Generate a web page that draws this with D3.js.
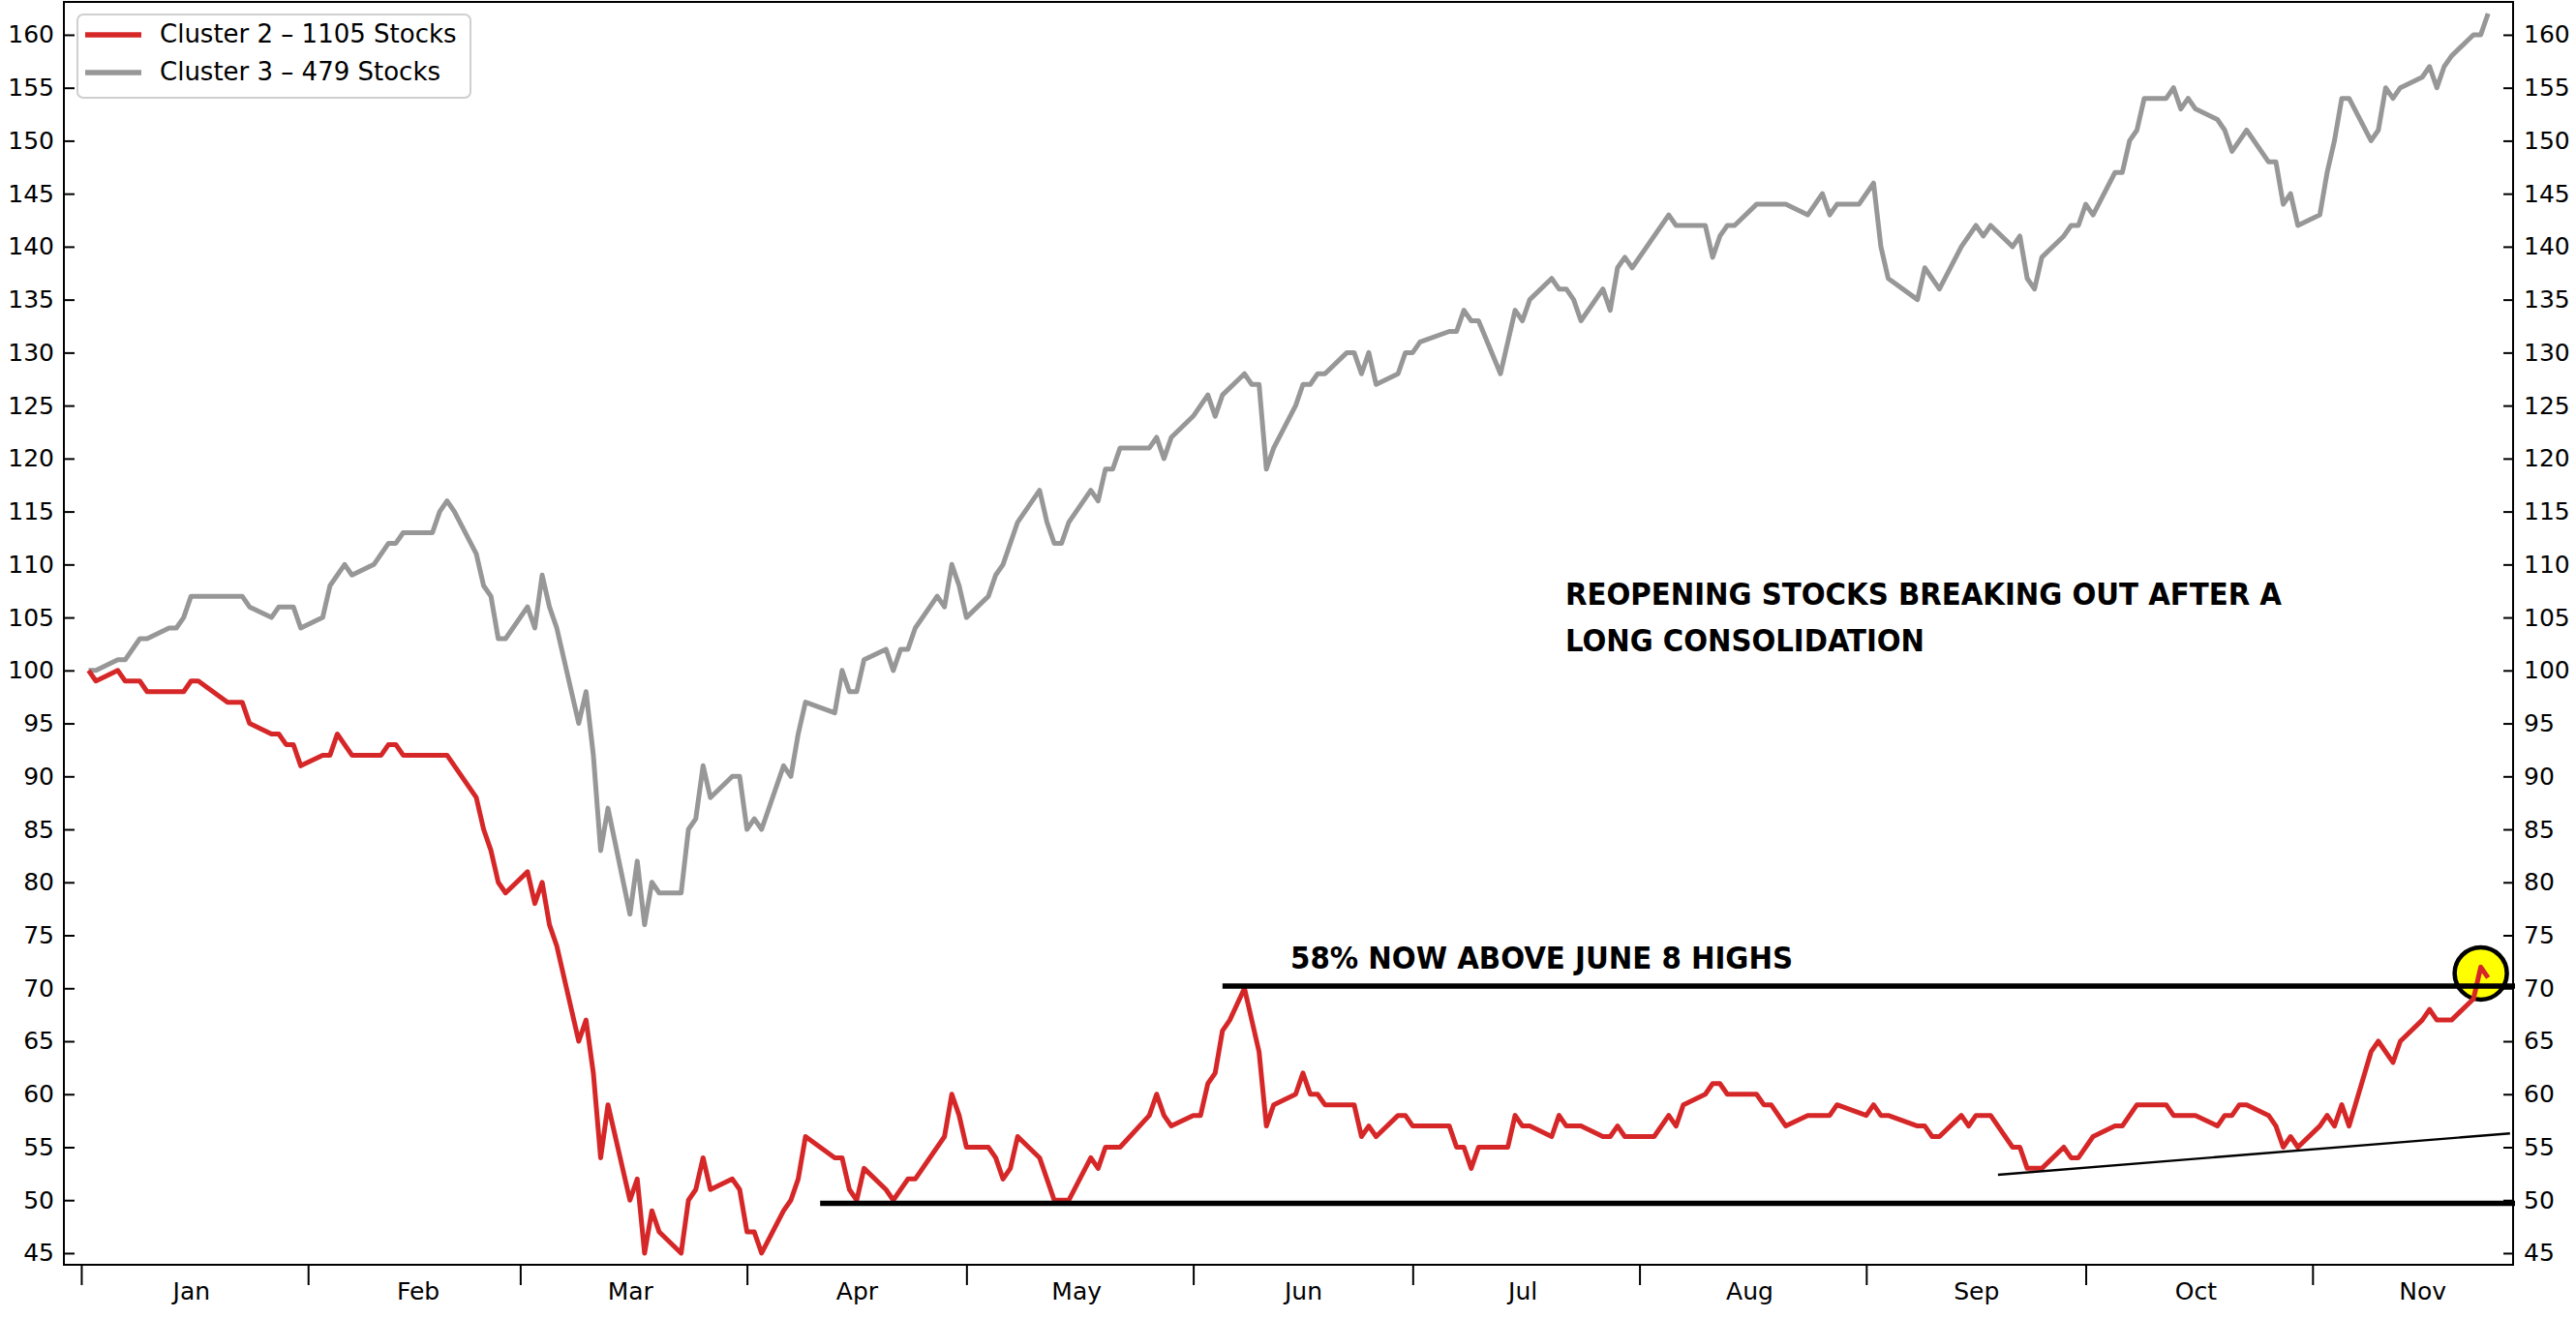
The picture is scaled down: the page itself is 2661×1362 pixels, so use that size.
<!DOCTYPE html>
<html>
<head>
<meta charset="utf-8">
<script src="https://cdn.jsdelivr.net/npm/d3@7"></script>
<style>
  body { margin: 0; background: #fff; }
</style>
</head>
<body>
<svg id="chart"></svg>
<script>
// month labels and y tick values
const months = ["Jan", "Feb", "Mar", "Apr", "May", "Jun", "Jul", "Aug", "Sep", "Oct", "Nov"];
const yTicks = [45, 50, 55, 60, 65, 70, 75, 80, 85, 90, 95, 100, 105, 110, 115, 120, 125, 130, 135, 140, 145, 150, 155, 160];
const seriesNames = ["Cluster 2 \u2013 1105 Stocks", "Cluster 3 \u2013 479 Stocks"];

// Cluster 2 (red) - [date, index]
const cluster2 = [
  ["2020-01-02",100],["2020-01-03",99],["2020-01-06",100],["2020-01-07",99],["2020-01-09",99],["2020-01-10",98],
  ["2020-01-15",98],["2020-01-16",99],["2020-01-17",99],["2020-01-21",97],["2020-01-23",97],["2020-01-24",95],
  ["2020-01-27",94],["2020-01-28",94],["2020-01-29",93],["2020-01-30",93],["2020-01-31",91],["2020-02-03",92],
  ["2020-02-04",92],["2020-02-05",94],["2020-02-07",92],["2020-02-11",92],["2020-02-12",93],["2020-02-13",93],
  ["2020-02-14",92],["2020-02-20",92],["2020-02-24",88],["2020-02-25",85],["2020-02-26",83],["2020-02-27",80],
  ["2020-02-28",79],["2020-03-02",81],["2020-03-03",78],["2020-03-04",80],["2020-03-05",76],["2020-03-06",74],
  ["2020-03-09",65],["2020-03-10",67],["2020-03-11",62],["2020-03-12",54],["2020-03-13",59],["2020-03-16",50],
  ["2020-03-17",52],["2020-03-18",45],["2020-03-19",49],["2020-03-20",47],["2020-03-23",45],["2020-03-24",50],
  ["2020-03-25",51],["2020-03-26",54],["2020-03-27",51],["2020-03-30",52],["2020-03-31",51],["2020-04-01",47],
  ["2020-04-02",47],["2020-04-03",45],["2020-04-06",49],["2020-04-07",50],["2020-04-08",52],["2020-04-09",56],
  ["2020-04-13",54],["2020-04-14",54],["2020-04-15",51],["2020-04-16",50],["2020-04-17",53],["2020-04-20",51],
  ["2020-04-21",50],["2020-04-23",52],["2020-04-24",52],["2020-04-28",56],["2020-04-29",60],["2020-04-30",58],
  ["2020-05-01",55],["2020-05-04",55],["2020-05-05",54],["2020-05-06",52],["2020-05-07",53],["2020-05-08",56],
  ["2020-05-11",54],["2020-05-13",50],["2020-05-15",50],["2020-05-18",54],["2020-05-19",53],["2020-05-20",55],
  ["2020-05-22",55],["2020-05-26",58],["2020-05-27",60],["2020-05-28",58],["2020-05-29",57],["2020-06-01",58],
  ["2020-06-02",58],["2020-06-03",61],["2020-06-04",62],["2020-06-05",66],["2020-06-06",67],["2020-06-08",70],
  ["2020-06-10",64],["2020-06-11",57],["2020-06-12",59],["2020-06-15",60],["2020-06-16",62],["2020-06-17",60],
  ["2020-06-18",60],["2020-06-19",59],["2020-06-23",59],["2020-06-24",56],["2020-06-25",57],["2020-06-26",56],
  ["2020-06-29",58],["2020-06-30",58],["2020-07-01",57],["2020-07-06",57],["2020-07-07",55],["2020-07-08",55],
  ["2020-07-09",53],["2020-07-10",55],["2020-07-14",55],["2020-07-15",58],["2020-07-16",57],["2020-07-17",57],
  ["2020-07-20",56],["2020-07-21",58],["2020-07-22",57],["2020-07-24",57],["2020-07-27",56],["2020-07-28",56],
  ["2020-07-29",57],["2020-07-30",56],["2020-08-03",56],["2020-08-05",58],["2020-08-06",57],["2020-08-07",59],
  ["2020-08-10",60],["2020-08-11",61],["2020-08-12",61],["2020-08-13",60],["2020-08-17",60],["2020-08-18",59],
  ["2020-08-19",59],["2020-08-21",57],["2020-08-24",58],["2020-08-27",58],["2020-08-28",59],["2020-09-01",58],
  ["2020-09-02",59],["2020-09-03",58],["2020-09-04",58],["2020-09-08",57],["2020-09-09",57],["2020-09-10",56],
  ["2020-09-11",56],["2020-09-14",58],["2020-09-15",57],["2020-09-16",58],["2020-09-18",58],["2020-09-21",55],
  ["2020-09-22",55],["2020-09-23",53],["2020-09-25",53],["2020-09-28",55],["2020-09-29",54],["2020-09-30",54],
  ["2020-10-02",56],["2020-10-05",57],["2020-10-06",57],["2020-10-08",59],["2020-10-12",59],["2020-10-13",58],
  ["2020-10-16",58],["2020-10-19",57],["2020-10-20",58],["2020-10-21",58],["2020-10-22",59],["2020-10-23",59],
  ["2020-10-26",58],["2020-10-27",57],["2020-10-28",55],["2020-10-29",56],["2020-10-30",55],["2020-11-02",57],
  ["2020-11-03",58],["2020-11-04",57],["2020-11-05",59],["2020-11-06",57],["2020-11-09",64],["2020-11-10",65],
  ["2020-11-12",63],["2020-11-13",65],["2020-11-16",67],["2020-11-17",68],["2020-11-18",67],["2020-11-20",67],
  ["2020-11-23",69],["2020-11-24",72],["2020-11-25",71]
];

// Cluster 3 (grey) - [date, index]
const cluster3 = [
  ["2020-01-02",100],["2020-01-03",100],["2020-01-06",101],["2020-01-07",101],["2020-01-09",103],["2020-01-10",103],
  ["2020-01-13",104],["2020-01-14",104],["2020-01-15",105],["2020-01-16",107],["2020-01-23",107],["2020-01-24",106],
  ["2020-01-27",105],["2020-01-28",106],["2020-01-30",106],["2020-01-31",104],["2020-02-03",105],["2020-02-04",108],
  ["2020-02-06",110],["2020-02-07",109],["2020-02-10",110],["2020-02-12",112],["2020-02-13",112],["2020-02-14",113],
  ["2020-02-18",113],["2020-02-19",115],["2020-02-20",116],["2020-02-21",115],["2020-02-24",111],["2020-02-25",108],
  ["2020-02-26",107],["2020-02-27",103],["2020-02-28",103],["2020-03-02",106],["2020-03-03",104],["2020-03-04",109],
  ["2020-03-05",106],["2020-03-06",104],["2020-03-09",95],["2020-03-10",98],["2020-03-11",92],["2020-03-12",83],
  ["2020-03-13",87],["2020-03-16",77],["2020-03-17",82],["2020-03-18",76],["2020-03-19",80],["2020-03-20",79],
  ["2020-03-23",79],["2020-03-24",85],["2020-03-25",86],["2020-03-26",91],["2020-03-27",88],["2020-03-30",90],
  ["2020-03-31",90],["2020-04-01",85],["2020-04-02",86],["2020-04-03",85],["2020-04-06",91],["2020-04-07",90],
  ["2020-04-08",94],["2020-04-09",97],["2020-04-13",96],["2020-04-14",100],["2020-04-15",98],["2020-04-16",98],
  ["2020-04-17",101],["2020-04-20",102],["2020-04-21",100],["2020-04-22",102],["2020-04-23",102],["2020-04-24",104],
  ["2020-04-27",107],["2020-04-28",106],["2020-04-29",110],["2020-04-30",108],["2020-05-01",105],["2020-05-04",107],
  ["2020-05-05",109],["2020-05-06",110],["2020-05-08",114],["2020-05-11",117],["2020-05-12",114],["2020-05-13",112],
  ["2020-05-14",112],["2020-05-15",114],["2020-05-18",117],["2020-05-19",116],["2020-05-20",119],["2020-05-21",119],
  ["2020-05-22",121],["2020-05-26",121],["2020-05-27",122],["2020-05-28",120],["2020-05-29",122],["2020-06-01",124],
  ["2020-06-03",126],["2020-06-04",124],["2020-06-05",126],["2020-06-08",128],["2020-06-09",127],["2020-06-10",127],
  ["2020-06-11",119],["2020-06-12",121],["2020-06-15",125],["2020-06-16",127],["2020-06-17",127],["2020-06-18",128],
  ["2020-06-19",128],["2020-06-22",130],["2020-06-23",130],["2020-06-24",128],["2020-06-25",130],["2020-06-26",127],
  ["2020-06-29",128],["2020-06-30",130],["2020-07-01",130],["2020-07-02",131],["2020-07-06",132],["2020-07-07",132],
  ["2020-07-08",134],["2020-07-09",133],["2020-07-10",133],["2020-07-13",128],["2020-07-15",134],["2020-07-16",133],
  ["2020-07-17",135],["2020-07-20",137],["2020-07-21",136],["2020-07-22",136],["2020-07-23",135],["2020-07-24",133],
  ["2020-07-27",136],["2020-07-28",134],["2020-07-29",138],["2020-07-30",139],["2020-07-31",138],["2020-08-05",143],
  ["2020-08-06",142],["2020-08-10",142],["2020-08-11",139],["2020-08-12",141],["2020-08-13",142],["2020-08-14",142],
  ["2020-08-17",144],["2020-08-21",144],["2020-08-24",143],["2020-08-26",145],["2020-08-27",143],["2020-08-28",144],
  ["2020-08-31",144],["2020-09-02",146],["2020-09-03",140],["2020-09-04",137],["2020-09-08",135],["2020-09-09",138],
  ["2020-09-11",136],["2020-09-14",140],["2020-09-16",142],["2020-09-17",141],["2020-09-18",142],["2020-09-21",140],
  ["2020-09-22",141],["2020-09-23",137],["2020-09-24",136],["2020-09-25",139],["2020-09-28",141],["2020-09-29",142],
  ["2020-09-30",142],["2020-10-01",144],["2020-10-02",143],["2020-10-05",147],["2020-10-06",147],["2020-10-07",150],
  ["2020-10-08",151],["2020-10-09",154],["2020-10-12",154],["2020-10-13",155],["2020-10-14",153],["2020-10-15",154],
  ["2020-10-16",153],["2020-10-19",152],["2020-10-20",151],["2020-10-21",149],["2020-10-23",151],["2020-10-26",148],
  ["2020-10-27",148],["2020-10-28",144],["2020-10-29",145],["2020-10-30",142],["2020-11-02",143],["2020-11-03",147],
  ["2020-11-04",150],["2020-11-05",154],["2020-11-06",154],["2020-11-09",150],["2020-11-10",151],["2020-11-11",155],
  ["2020-11-12",154],["2020-11-13",155],["2020-11-16",156],["2020-11-17",157],["2020-11-18",155],["2020-11-19",157],
  ["2020-11-20",158],["2020-11-23",160],["2020-11-24",160],["2020-11-25",162]
];

// drawn-on annotations: level lines, trend line, highlight
const levels = [["2020-06-05", 70.2], ["2020-04-11", 49.7]];
const trend = [["2020-09-19", 52.4], ["2020-11-28", 56.3]];
const highlight = ["2020-11-24", 71.4];
const notes = ["58% NOW ABOVE JUNE 8 HIGHS", "REOPENING STOCKS BREAKING OUT AFTER A", "LONG CONSOLIDATION"];

const width = 2661;
const height = 1362;
const margin = { top: 2, right: 65, bottom: 55, left: 66 };
const red = "#d62728";
const grey = "#979797";
const parse = d3.timeParse("%Y-%m-%d");

const svg = d3.select("#chart")
  .attr("width", width)
  .attr("height", height)
  .attr("viewBox", [0, 0, width, height])
  .style("font-family", "'DejaVu Sans', sans-serif");

svg.append("rect").attr("width", width).attr("height", height).attr("fill", "#fff");

const x = d3.scaleTime()
  .domain([new Date(2019, 11, 29, 15), new Date(2020, 10, 28, 10)])
  .range([margin.left, width - margin.right]);

const y = d3.scaleLinear()
  .domain([43.9, 163.1])
  .range([height - margin.bottom, margin.top]);

const line = d3.line()
  .x(d => x(parse(d[0])))
  .y(d => y(d[1]));

// yellow highlight sits under the lines
svg.append("circle")
  .attr("cx", x(parse(highlight[0])))
  .attr("cy", y(highlight[1]))
  .attr("r", 27)
  .attr("fill", "#ffff00")
  .attr("stroke", "#000")
  .attr("stroke-width", 4.5);

svg.append("path")
  .datum(cluster3)
  .attr("fill", "none")
  .attr("stroke", grey)
  .attr("stroke-width", 5)
  .attr("stroke-linejoin", "round")
  .attr("d", line);

svg.append("path")
  .datum(cluster2)
  .attr("fill", "none")
  .attr("stroke", red)
  .attr("stroke-width", 5)
  .attr("stroke-linejoin", "round")
  .attr("d", line);

// horizontal levels
svg.append("g")
  .selectAll("line")
  .data(levels)
  .join("line")
    .attr("x1", d => x(parse(d[0])))
    .attr("x2", width - margin.right + 2)
    .attr("y1", d => y(d[1]))
    .attr("y2", d => y(d[1]))
    .attr("stroke", "#000")
    .attr("stroke-width", 5.5);

svg.append("line")
  .attr("x1", x(parse(trend[0][0])))
  .attr("y1", y(trend[0][1]))
  .attr("x2", x(parse(trend[1][0])))
  .attr("y2", y(trend[1][1]))
  .attr("stroke", "#000")
  .attr("stroke-width", 2.4);

// axes
const yLeft = svg.append("g")
  .attr("transform", `translate(${margin.left},0)`)
  .call(d3.axisLeft(y).tickValues(yTicks).tickSizeInner(-11).tickSizeOuter(0).tickPadding(10));

const yRight = svg.append("g")
  .attr("transform", `translate(${width - margin.right},0)`)
  .call(d3.axisRight(y).tickValues(yTicks).tickSizeInner(-10).tickSizeOuter(0).tickPadding(11));

const xTicks = svg.append("g")
  .attr("transform", `translate(0,${height - margin.bottom})`)
  .call(d3.axisBottom(x).ticks(d3.timeMonth.every(1)).tickFormat("").tickSizeOuter(0).tickSize(21));

const xLabels = svg.append("g")
  .attr("transform", `translate(0,${height - margin.bottom})`)
  .call(d3.axisBottom(x)
    .tickValues(months.map((m, i) => new Date(2020, i, 16)))
    .tickFormat((d, i) => months[i])
    .tickSize(0)
    .tickPadding(18));

[yLeft, yRight, xTicks, xLabels].forEach(g => {
  g.select(".domain").remove();
  g.selectAll("line").attr("stroke", "#000").attr("stroke-width", 2);
  g.selectAll("text")
    .attr("fill", "#000")
    .attr("font-size", 25)
    .attr("font-family", "'DejaVu Sans', sans-serif");
});

// frame
svg.append("rect")
  .attr("x", margin.left)
  .attr("y", margin.top)
  .attr("width", width - margin.left - margin.right)
  .attr("height", height - margin.top - margin.bottom)
  .attr("fill", "none")
  .attr("stroke", "#000")
  .attr("stroke-width", 2);

// legend
const legend = svg.append("g");
legend.append("rect")
  .attr("x", 80).attr("y", 15)
  .attr("width", 406).attr("height", 86)
  .attr("rx", 6)
  .attr("fill", "#fff")
  .attr("stroke", "#cfcfcf")
  .attr("stroke-width", 2);

const items = legend.selectAll("g.item")
  .data(seriesNames)
  .join("g")
    .attr("class", "item")
    .attr("transform", (d, i) => `translate(0,${36 + i * 39})`);

items.append("line")
  .attr("x1", 88).attr("x2", 146)
  .attr("stroke", (d, i) => i === 0 ? red : grey)
  .attr("stroke-width", 5.5);

items.append("text")
  .attr("x", 165)
  .attr("y", 8)
  .attr("font-size", 26)
  .text(d => d);

// annotation text
const noteStyle = sel => sel
  .attr("font-family", "'DejaVu Sans Condensed', 'Liberation Sans Narrow', 'DejaVu Sans', sans-serif")
  .attr("font-weight", "bold")
  .attr("font-size", 32.5)
  .attr("fill", "#000")
  .attr("lengthAdjust", "spacingAndGlyphs");

svg.append("text").call(noteStyle)
  .attr("x", 1333).attr("y", 1001)
  .attr("textLength", 519)
  .text(notes[0]);

svg.append("text").call(noteStyle)
  .attr("x", 1617).attr("y", 625)
  .attr("textLength", 740)
  .text(notes[1]);

svg.append("text").call(noteStyle)
  .attr("x", 1617).attr("y", 673)
  .attr("textLength", 371)
  .text(notes[2]);
</script>
</body>
</html>
